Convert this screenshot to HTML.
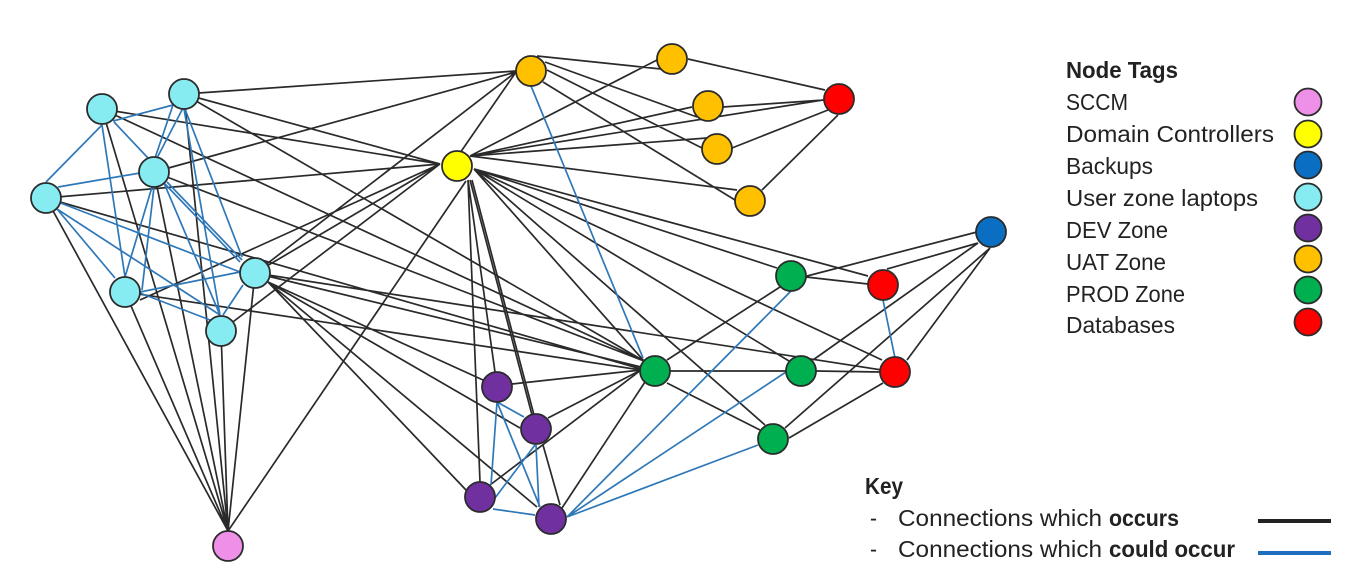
<!DOCTYPE html>
<html lang="en">
<head>
<meta charset="utf-8">
<title>Node connections diagram</title>
<style>
html,body{margin:0;padding:0;background:#fff;width:1366px;height:583px;overflow:hidden}
svg{display:block;filter:blur(0.35px)}
text{font-family:"Liberation Sans",sans-serif;font-size:23px;fill:#222}
.b{font-weight:bold}
</style>
</head>
<body>
<svg width="1366" height="583" viewBox="0 0 1366 583" xmlns="http://www.w3.org/2000/svg">
<rect width="1366" height="583" fill="#fff"/>
<!-- black connections -->
<path fill="none" stroke="#2a2a2a" stroke-width="1.7" d="
M102 109L228 531 M184 94L228 531 M154 172L228 531 M46 198L228 531 M125 292L228 531 M255 273L228 531 M221 331L228 531 M466 181L228 531
M184 94L516 71 M154 172L516 72 M255 273L516 72 M460 153L516 72
M184 94L440 164 M102 109L440 164 M46 198L440 164 M140 300L440 164 M255 273L440 164 M221 331L440 164 M154 172L644 361
M184 94L644 361 M102 109L644 361 M46 198L641 369 M125 292L641 370 M255 273L641 367 M255 273L895 372
M470 156L657 60 M470 156L692 107 M470 156L823 100 M470 156L707 138 M470 156L737 190
M537 56L661 69 M545 62L697 117 M547 70L702 148 M543 82L735 200
M688 59L825 90 M723 107L824 100 M732 148L828 110 M762 190L838 115
M474 169L868 276 M474 169L777 268 M474 169L882 360 M474 169L789 361 M474 169L765 425 M474 169L644 361
M468 180L480 482 M468 180L495 372 M470 180L532 415 M472 180L534 415
M268 282L483 380 M268 282L520 428 M268 282L466 490 M268 282L537 507
M512 384L641 370 M548 418L641 370 M490 485L641 370 M562 508L645 382 M543 445L560 505
M667 360L780 287 M667 383L760 430 M670 371L786 371 M816 371L880 372
M807 276L977 232 M887 269L978 243 M806 277L868 284 M813 360L978 243 M785 428L990 248 M907 360L990 248 M789 438L883 383
"/>
<!-- blue connections -->
<path fill="none" stroke="#2f78b8" stroke-width="1.7" d="
M46 182L102 125 M113 121L173 105 M114 122L148 158 M102 125L125 277
M173 105L155 158 M183 108L157 158 M184 109L220 315 M185 109L242 257
M58 187L140 173 M152 187L125 277 M154 187L142 290 M164 183L220 315 M167 182L242 260 M165 184L240 262
M57 209L115 278 M58 202L240 272 M57 209L220 315 M140 292L240 272 M140 293L210 320 M243 285L223 315
M531 86L643 358 M883 300L895 358
M791 291L567 517 M786 372L567 517 M758 445L567 517
M497 402L491 485 M497 402L524 417 M497 402L540 507 M535 445L495 498 M536 445L539 507 M493 509L535 515
"/>
<!-- nodes -->
<g stroke="#2b2b2b" stroke-width="1.8">
<g fill="#86ecf2">
<circle cx="102" cy="109" r="15"/><circle cx="184" cy="94" r="15"/><circle cx="154" cy="172" r="15"/><circle cx="46" cy="198" r="15"/><circle cx="125" cy="292" r="15"/><circle cx="255" cy="273" r="15"/><circle cx="221" cy="331" r="15"/>
</g>
<circle cx="457" cy="166" r="15" fill="#ffff00"/>
<g fill="#ffc000">
<circle cx="531" cy="71" r="15"/><circle cx="672" cy="59" r="15"/><circle cx="708" cy="106" r="15"/><circle cx="717" cy="149" r="15"/><circle cx="750" cy="201" r="15"/>
</g>
<g fill="#ff0000">
<circle cx="839" cy="99" r="15"/><circle cx="883" cy="285" r="15"/><circle cx="895" cy="372" r="15"/>
</g>
<g fill="#00b050">
<circle cx="791" cy="276" r="15"/><circle cx="655" cy="371" r="15"/><circle cx="801" cy="371" r="15"/><circle cx="773" cy="439" r="15"/>
</g>
<circle cx="991" cy="232" r="15" fill="#0a6fc2"/>
<g fill="#7030a0">
<circle cx="497" cy="387" r="15"/><circle cx="536" cy="429" r="15"/><circle cx="480" cy="497" r="15"/><circle cx="551" cy="519" r="15"/>
</g>
<circle cx="228" cy="546" r="15" fill="#ee8fe8"/>
<!-- legend swatches -->
<circle cx="1308" cy="102" r="13.5" fill="#ee8fe8"/>
<circle cx="1308" cy="134" r="13.5" fill="#ffff00"/>
<circle cx="1308" cy="165" r="13.5" fill="#0a6fc2"/>
<circle cx="1308" cy="197" r="13.5" fill="#86ecf2"/>
<circle cx="1308" cy="228" r="13.5" fill="#7030a0"/>
<circle cx="1308" cy="259" r="13.5" fill="#ffc000"/>
<circle cx="1308" cy="290" r="13.5" fill="#00b050"/>
<circle cx="1308" cy="322" r="13.5" fill="#ff0000"/>
</g>
<!-- legend text -->
<text class="b" x="1066" y="78" textLength="112" lengthAdjust="spacingAndGlyphs">Node Tags</text>
<text x="1066" y="110" textLength="62" lengthAdjust="spacingAndGlyphs">SCCM</text>
<text x="1066" y="142" textLength="208" lengthAdjust="spacingAndGlyphs">Domain Controllers</text>
<text x="1066" y="174" textLength="87" lengthAdjust="spacingAndGlyphs">Backups</text>
<text x="1066" y="206" textLength="192" lengthAdjust="spacingAndGlyphs">User zone laptops</text>
<text x="1066" y="238" textLength="102" lengthAdjust="spacingAndGlyphs">DEV Zone</text>
<text x="1066" y="270" textLength="100" lengthAdjust="spacingAndGlyphs">UAT Zone</text>
<text x="1066" y="302" textLength="119" lengthAdjust="spacingAndGlyphs">PROD Zone</text>
<text x="1066" y="333" textLength="109" lengthAdjust="spacingAndGlyphs">Databases</text>
<!-- key -->
<text class="b" x="865" y="494" textLength="38" lengthAdjust="spacingAndGlyphs">Key</text>
<text x="870" y="526" textLength="7" lengthAdjust="spacingAndGlyphs">-</text>
<text x="898" y="526" textLength="204" lengthAdjust="spacingAndGlyphs">Connections which</text>
<text class="b" x="1109" y="526" textLength="70" lengthAdjust="spacingAndGlyphs">occurs</text>
<text x="870" y="557" textLength="7" lengthAdjust="spacingAndGlyphs">-</text>
<text x="898" y="557" textLength="204" lengthAdjust="spacingAndGlyphs">Connections which</text>
<text class="b" x="1109" y="557" textLength="126" lengthAdjust="spacingAndGlyphs">could occur</text>
<line x1="1258" y1="521" x2="1331" y2="521" stroke="#222" stroke-width="4"/>
<line x1="1258" y1="553" x2="1331" y2="553" stroke="#1f6fbf" stroke-width="4"/>
</svg>
</body>
</html>
